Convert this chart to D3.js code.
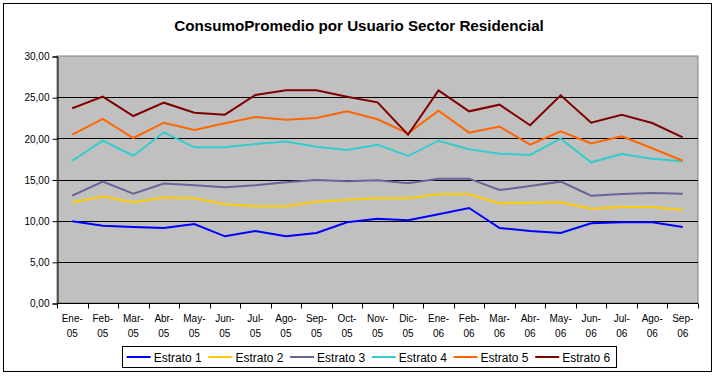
<!DOCTYPE html>
<html><head><meta charset="utf-8">
<script src="https://cdn.jsdelivr.net/npm/d3@7"></script>
<style>body{margin:0;background:#fff;}svg{display:block;font-family:Arial,"Liberation Sans",sans-serif;}</style>
</head><body>
<svg id="c" width="717" height="378"></svg>
<script>
const months = ["Ene-05","Feb-05","Mar-05","Abr-05","May-05","Jun-05","Jul-05","Ago-05","Sep-05","Oct-05","Nov-05","Dic-05","Ene-06","Feb-06","Mar-06","Abr-06","May-06","Jun-06","Jul-06","Ago-06","Sep-06"];
const seriesNames = ["Estrato 1","Estrato 2","Estrato 3","Estrato 4","Estrato 5","Estrato 6"];
const seriesColors = ["#0000FF","#FFCC00","#666699","#33CCCC","#FF6600","#800000"];
const estrato1 = [9.92,9.39,9.23,9.11,9.60,8.10,8.75,8.10,8.50,9.80,10.24,10.04,10.77,11.54,9.11,8.75,8.50,9.68,9.80,9.80,9.23];
const estrato2 = [12.23,12.92,12.23,12.80,12.72,11.99,11.74,11.74,12.30,12.55,12.72,12.72,13.20,13.20,12.11,12.19,12.23,11.46,11.66,11.66,11.30];
const estrato3 = [13.04,14.74,13.28,14.50,14.29,14.05,14.29,14.66,14.94,14.78,14.90,14.54,15.10,15.10,13.72,14.21,14.74,13.04,13.24,13.36,13.28];
const estrato4 = [17.28,19.71,17.89,20.73,18.91,18.91,19.31,19.60,18.99,18.58,19.23,17.85,19.71,18.67,18.14,17.98,19.96,17.09,18.10,17.53,17.21];
const estrato5 = [20.44,22.35,20.04,21.90,21.01,21.82,22.59,22.27,22.47,23.28,22.31,20.60,23.36,20.69,21.42,19.23,20.85,19.39,20.24,18.79,17.28];
const estrato6 = [23.65,25.06,22.71,24.33,23.12,22.87,25.26,25.83,25.83,25.06,24.37,20.44,25.83,23.28,24.09,21.58,25.22,21.90,22.87,21.86,20.12];
const yTicks = [0,5,10,15,20,25,30];
const title = "ConsumoPromedio por Usuario Sector Residencial";

const allSeries = [estrato1,estrato2,estrato3,estrato4,estrato5,estrato6];
const svg = d3.select("#c");
const L=57, R=698, T=56, B=303;

// outer border
svg.append("rect").attr("x",3.5).attr("y",3.5).attr("width",708).attr("height",368)
  .attr("fill","#fff").attr("stroke","#000").attr("stroke-width",1);

svg.append("text").attr("x",359).attr("y",31).attr("text-anchor","middle")
  .attr("font-size",15.2).attr("font-weight","bold").text(title);

const x = d3.scaleBand().domain(months).range([L,R]).padding(0);
const y = d3.scaleLinear().domain([0,30]).range([B,T]);

svg.append("rect").attr("x",L).attr("y",T).attr("width",R-L).attr("height",B-T)
  .attr("fill","#C0C0C0").attr("stroke","#808080").attr("stroke-width",1);

// gridlines
svg.append("g").selectAll("line").data(yTicks.filter(t=>t>0&&t<30)).join("line")
  .attr("x1",L).attr("x2",R).attr("y1",d=>Math.round(y(d))+0.5).attr("y2",d=>Math.round(y(d))+0.5)
  .attr("stroke","#000").attr("stroke-width",1);

// y axis
const yAxis = d3.axisLeft(y).tickValues(yTicks).tickSize(5).tickPadding(3)
  .tickFormat(d=>d3.format(".2f")(d).replace(".",","));
const gy = svg.append("g").attr("transform",`translate(${L+0.5},0.5)`).call(yAxis);
gy.select(".domain").attr("stroke","#000");
gy.selectAll("text").attr("font-size",10).attr("font-family","Arial,'Liberation Sans',sans-serif").attr("fill","#000");

// x axis with ticks at boundaries
const gx = svg.append("g").attr("transform",`translate(0,${B+0.5})`);
gx.append("line").attr("x1",L).attr("x2",R).attr("stroke","#000");
const bounds = months.map(m=>x(m)).concat([R]);
gx.selectAll("line.tk").data(bounds).join("line").attr("class","tk")
  .attr("x1",d=>Math.round(d)+0.5).attr("x2",d=>Math.round(d)+0.5).attr("y1",0).attr("y2",5).attr("stroke","#000");
const lbl = gx.selectAll("text").data(months).join("text")
  .attr("text-anchor","middle").attr("font-size",10);
lbl.append("tspan").attr("x",m=>x(m)+x.bandwidth()/2).attr("y",18).text(m=>m.split("-")[0]+"-");
lbl.append("tspan").attr("x",m=>x(m)+x.bandwidth()/2).attr("y",33).text(m=>m.split("-")[1]);

// lines
const line = d3.line().x((d,i)=>x(months[i])+x.bandwidth()/2).y(d=>y(d));
svg.append("g").selectAll("path").data(allSeries).join("path")
  .attr("d",line).attr("fill","none").attr("stroke",(d,i)=>seriesColors[i]).attr("stroke-width",2)
  .attr("stroke-linejoin","miter");

// legend
const lg = svg.append("g");
lg.append("rect").attr("x",122.5).attr("y",346.5).attr("width",494).attr("height",21)
  .attr("fill","#fff").attr("stroke","#000").attr("stroke-width",1);
const it = lg.selectAll("g").data(seriesNames).join("g")
  .attr("transform",(d,i)=>`translate(${126.7+i*81.7},357)`);
it.append("line").attr("x1",0).attr("x2",24).attr("stroke",(d,i)=>seriesColors[i]).attr("stroke-width",2);
it.append("text").attr("x",27).attr("y",4.5).attr("font-size",12).text(d=>d);
</script>
</body></html>
